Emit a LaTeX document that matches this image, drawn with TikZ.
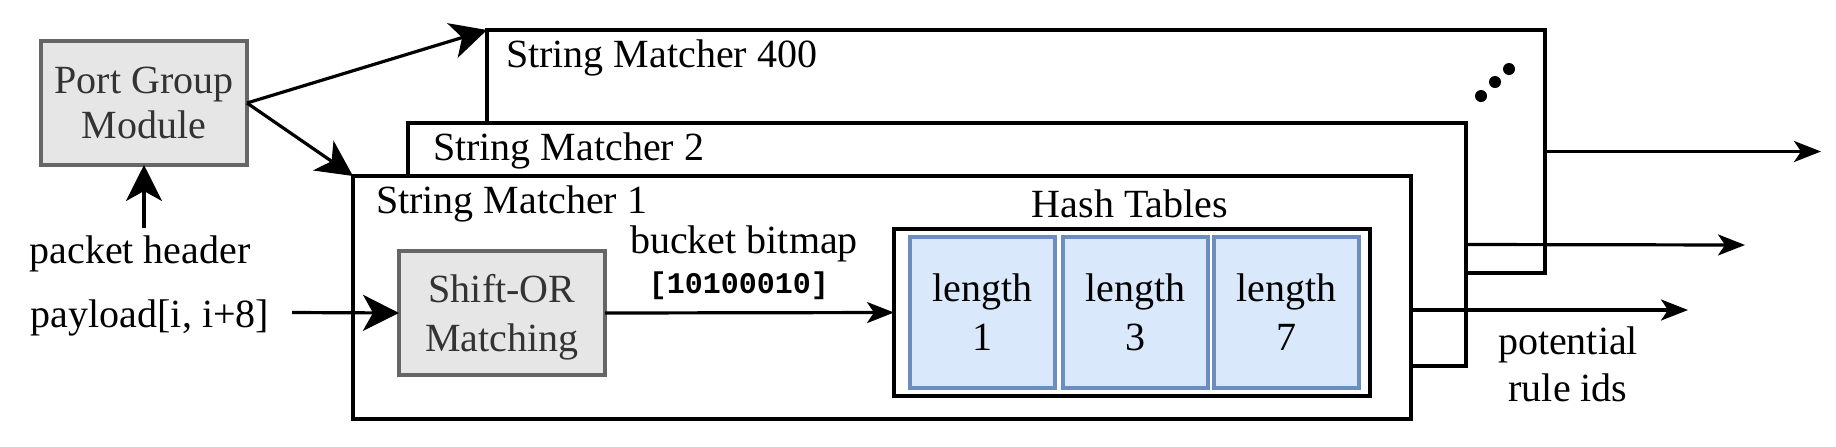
\documentclass[tikz,border=0pt]{standalone}
\usepackage{fontspec}
\setmainfont{Liberation Serif}
\newfontfamily\codefont{Liberation Mono}
\usetikzlibrary{arrows.meta}
\definecolor{grayfill}{HTML}{E6E6E6}
\definecolor{grayline}{HTML}{666666}
\definecolor{graytext}{HTML}{333333}
\definecolor{bluefill}{HTML}{DAE8FC}
\definecolor{blueline}{HTML}{6C8EBF}
\begin{document}
\begin{tikzpicture}[x=0.5pt,y=-0.5pt,
  every node/.style={font=\fontsize{20}{23.5}\selectfont, inner sep=0pt, outer sep=0pt},
  graybox/.style={draw=grayline, fill=grayfill, line width=1.6pt, text=graytext, align=center,
    minimum width=103pt, minimum height=62pt, anchor=north west, text depth=0pt},
  smbox/.style={draw=black, fill=white, line width=1.6pt, minimum width=529pt,
    minimum height=121.5pt, anchor=north west},
  htbox/.style={draw=black, fill=white, line width=1.6pt, minimum width=238pt,
    minimum height=83.5pt, anchor=north west},
  lenbox/.style={draw=blueline, fill=bluefill, line width=1.6pt, align=center,
    minimum width=72.5pt, minimum height=75.5pt, anchor=north west, text depth=0pt,
    font=\fontsize{20}{24.5}\selectfont},
  smlabel/.style={anchor=base west},
  txt/.style={anchor=base},
  bigarrow/.style={line width=1.6pt, -{Stealth[length=18pt,width=18pt,inset=5pt]}},
  smallarrow/.style={line width=1.6pt, -{Stealth[length=13.5pt,width=10.5pt,inset=3.5pt]}},
  dot/.style={fill=black}
]
\useasboundingbox (0,0) rectangle (1836,446);

% string matcher boxes (back to front)
\node[smbox] (sm400) at (487,30) {};
\node[smlabel] (sm400t) at (506,67) {String Matcher 400};
\fill[dot] (1481,96) circle (3pt);
\fill[dot] (1495,82) circle (3pt);
\fill[dot] (1509,69) circle (3pt);

\node[smbox] (sm2) at (408,123) {};
\node[smlabel] (sm2t) at (433,160) {String Matcher 2};

\node[smbox] (sm1) at (353,176) {};
\node[smlabel] (sm1t) at (376,213) {String Matcher 1};

% port group module
\node[graybox, font=\fontsize{20}{22.5}\selectfont] (pgm) at (41,41) {Port Group\\Module};
\node[txt] (header) at (140,263) {packet header};
\coordinate (hdrtop) at (144,228);

% payload
\node[txt] (payload) at (150,327) {payload[i, i+8]};
\coordinate (payin) at (292,312.5);

% shift-or
\node[graybox, font=\fontsize{20}{24.5}\selectfont] (shift) at (399,251) {Shift-OR\\Matching};

% bucket bitmap
\node[txt] (bb) at (744,253) {bucket bitmap};
\node[txt, font=\codefont\bfseries\fontsize{15}{18}\selectfont] (bits) at (739,293) {[10100010]};

% hash tables
\node[txt] (htt) at (1130,217) {Hash Tables};
\node[htbox] (ht) at (894,229) {};
\node[lenbox] (l1) at (910,237) {length\\1};
\node[lenbox] (l3) at (1063,237) {length\\3};
\node[lenbox] (l7) at (1214,237) {length\\7};

% outputs
\coordinate (o400) at (1821,151.5);
\coordinate (o2) at (1745,245);
\coordinate (o1) at (1688,310);
\node[align=center, font=\fontsize{20}{23.5}\selectfont] (pot) at (1568,364) {potential\\rule ids};

% connectors
\draw[bigarrow] (pgm.east) -- (sm400.north west);
\draw[bigarrow] (pgm.east) -- (sm1.north west);
\draw[bigarrow] (hdrtop) -- (pgm.south);
\draw[bigarrow] (payin) -- (shift.west);
\draw[smallarrow] (shift.east) -- (ht.west);
\draw[smallarrow] (sm400.east) -- (o400);
\draw[smallarrow] (sm2.east) -- (o2);
\draw[smallarrow] (o1 -| sm1.east) -- (o1);
\end{tikzpicture}
\end{document}
